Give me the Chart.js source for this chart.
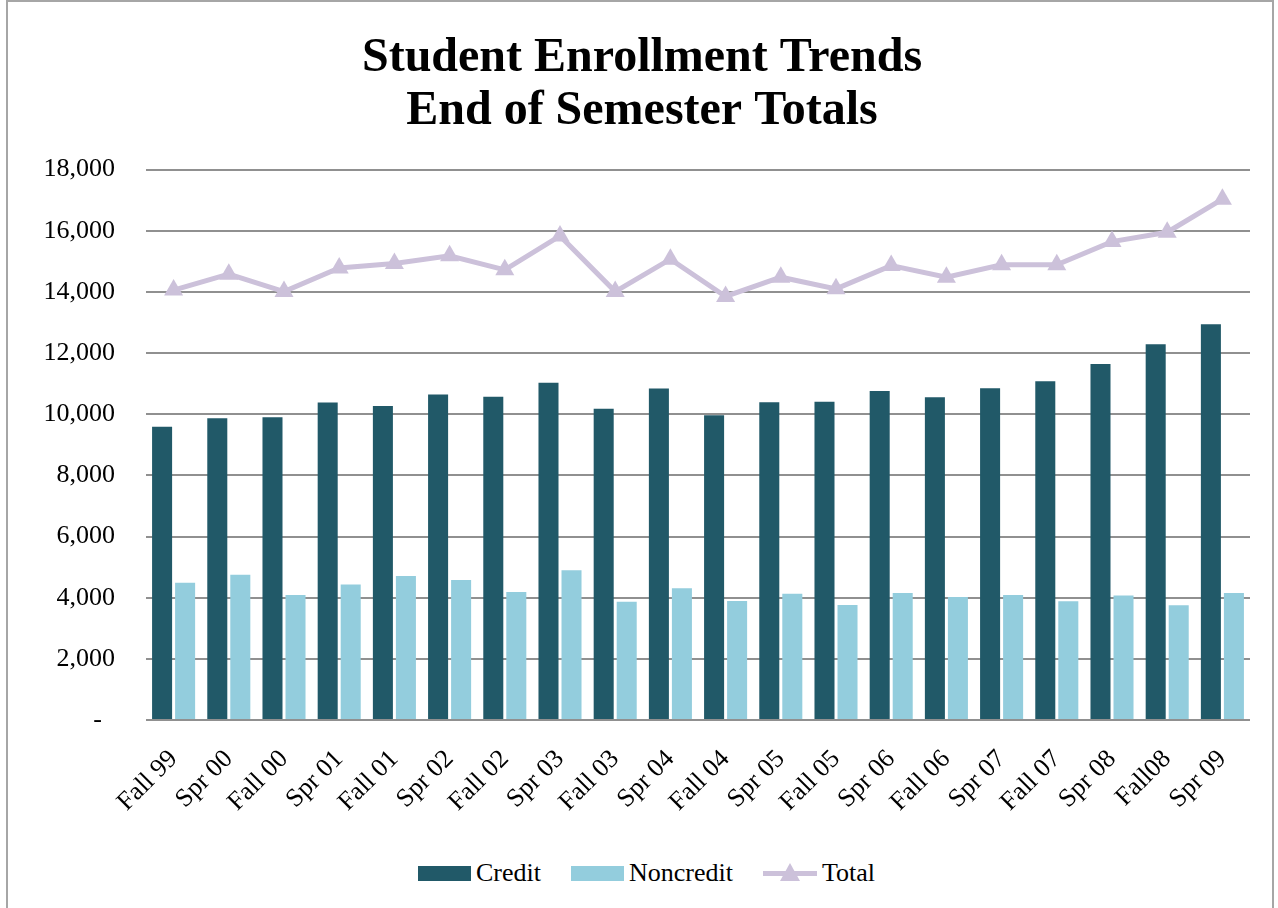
<!DOCTYPE html>
<html>
<head>
<meta charset="utf-8">
<script src="https://cdn.jsdelivr.net/npm/chart.js@4.4.1/dist/chart.umd.min.js"></script>
<style>
  html, body { margin: 0; padding: 0; background: #fff; }
  body { width: 1278px; height: 908px; position: relative; overflow: hidden; font-family: "Liberation Serif", "Times New Roman", serif; }
  .frame { position: absolute; left: 6px; top: 0; width: 1268px; height: 912px; border: 2px solid #a6a6a6; box-sizing: border-box; }
  #wrap { position: absolute; left: 0; top: 0; width: 1278px; height: 840px; }
  .lg { position: absolute; left: 418px; top: 858px; display: flex; align-items: center; font-size: 26px; color: #000; white-space: nowrap; }
  .lg .it { display: flex; align-items: center; margin-right: 30px; }
  .lg .box { width: 53px; height: 15px; margin-right: 5px; }
  .lg .ln { position: relative; width: 54px; height: 5px; background: #ccc1da; margin-right: 5px; }
  .lg .ln::after { content: ''; position: absolute; left: 17px; top: -8px; border-left: 10px solid transparent; border-right: 10px solid transparent; border-bottom: 18px solid #ccc1da; }
</style>
</head>
<body>
<div class="frame"></div>
<div id="wrap"><canvas id="c"></canvas></div>
<div class="lg">
  <div class="it"><span class="box" style="background:#215968"></span>Credit</div>
  <div class="it"><span class="box" style="background:#93cddd"></span>Noncredit</div>
  <div class="it"><span class="ln"></span>Total</div>
</div>
<script>
const semesters = ['Fall 99', 'Spr 00', 'Fall 00', 'Spr 01', 'Fall 01', 'Spr 02', 'Fall 02', 'Spr 03', 'Fall 03', 'Spr 04',
  'Fall 04', 'Spr 05', 'Fall 05', 'Spr 06', 'Fall 06', 'Spr 07', 'Fall 07', 'Spr 08', 'Fall08', 'Spr 09'];
const credit = [9590, 9870, 9900, 10380, 10270, 10645, 10570, 11030, 10175, 10840,
  9965, 10390, 10410, 10760, 10555, 10850, 11075, 11640, 12285, 12945];
const noncredit = [4490, 4750, 4090, 4435, 4705, 4575, 4185, 4900, 3870, 4305,
  3890, 4130, 3760, 4150, 4020, 4090, 3880, 4075, 3750, 4150];
const total = [14060, 14580, 14010, 14780, 14930, 15180, 14720, 15830, 14010, 15070,
  13850, 14480, 14100, 14860, 14480, 14885, 14885, 15645, 15950, 17030];
const yTicks = [0, 2000, 4000, 6000, 8000, 10000, 12000, 14000, 16000, 18000];

const serif = '"Liberation Serif", "Times New Roman", serif';
Chart.defaults.font.family = serif;
Chart.defaults.color = '#000';

new Chart(document.getElementById('c'), {
  data: {
    labels: semesters,
    datasets: [
      { type: 'line', label: 'Total', data: total, order: 0,
        borderColor: '#ccc1da', backgroundColor: '#ccc1da', borderWidth: 5, tension: 0,
        pointStyle: 'triangle', pointRadius: 11, pointHoverRadius: 11, pointBorderWidth: 0, pointBackgroundColor: '#ccc1da' },
      { type: 'bar', label: 'Credit', data: credit, order: 1, backgroundColor: '#215968',
        barPercentage: 0.87, categoryPercentage: 0.834 },
      { type: 'bar', label: 'Noncredit', data: noncredit, order: 1, backgroundColor: '#93cddd',
        barPercentage: 0.87, categoryPercentage: 0.834 },
    ],
  },
  options: {
    responsive: true, maintainAspectRatio: false, animation: false,
    layout: { padding: { left: 34, right: 28, top: 0, bottom: 20 } },
    plugins: {
      legend: { display: false },
      tooltip: { enabled: false },
      title: {
        display: true, text: ['Student Enrollment Trends', 'End of Semester Totals'],
        color: '#000', font: { family: serif, size: 48, weight: 'bold', lineHeight: 1.11 },
        padding: { top: 32, bottom: 31 },
      },
    },
    scales: {
      x: {
        grid: { display: false }, border: { display: false },
        ticks: { font: { size: 26 }, maxRotation: 45, minRotation: 45, padding: 16, autoSkip: false },
        afterFit: s => { s.height = 100; },
      },
      y: {
        min: 0, max: 18000,
        afterBuildTicks: s => { s.ticks = yTicks.map(v => ({ value: v })); },
        grid: { color: '#909090', lineWidth: 2, drawTicks: false }, border: { display: false },
        ticks: { font: { size: 26 }, padding: 31, callback: v => v === 0 ? '-  ' : v.toLocaleString('en-US') },
        afterFit: s => { s.width = 112; },
      },
    },
  },
});
</script>
</body>
</html>
